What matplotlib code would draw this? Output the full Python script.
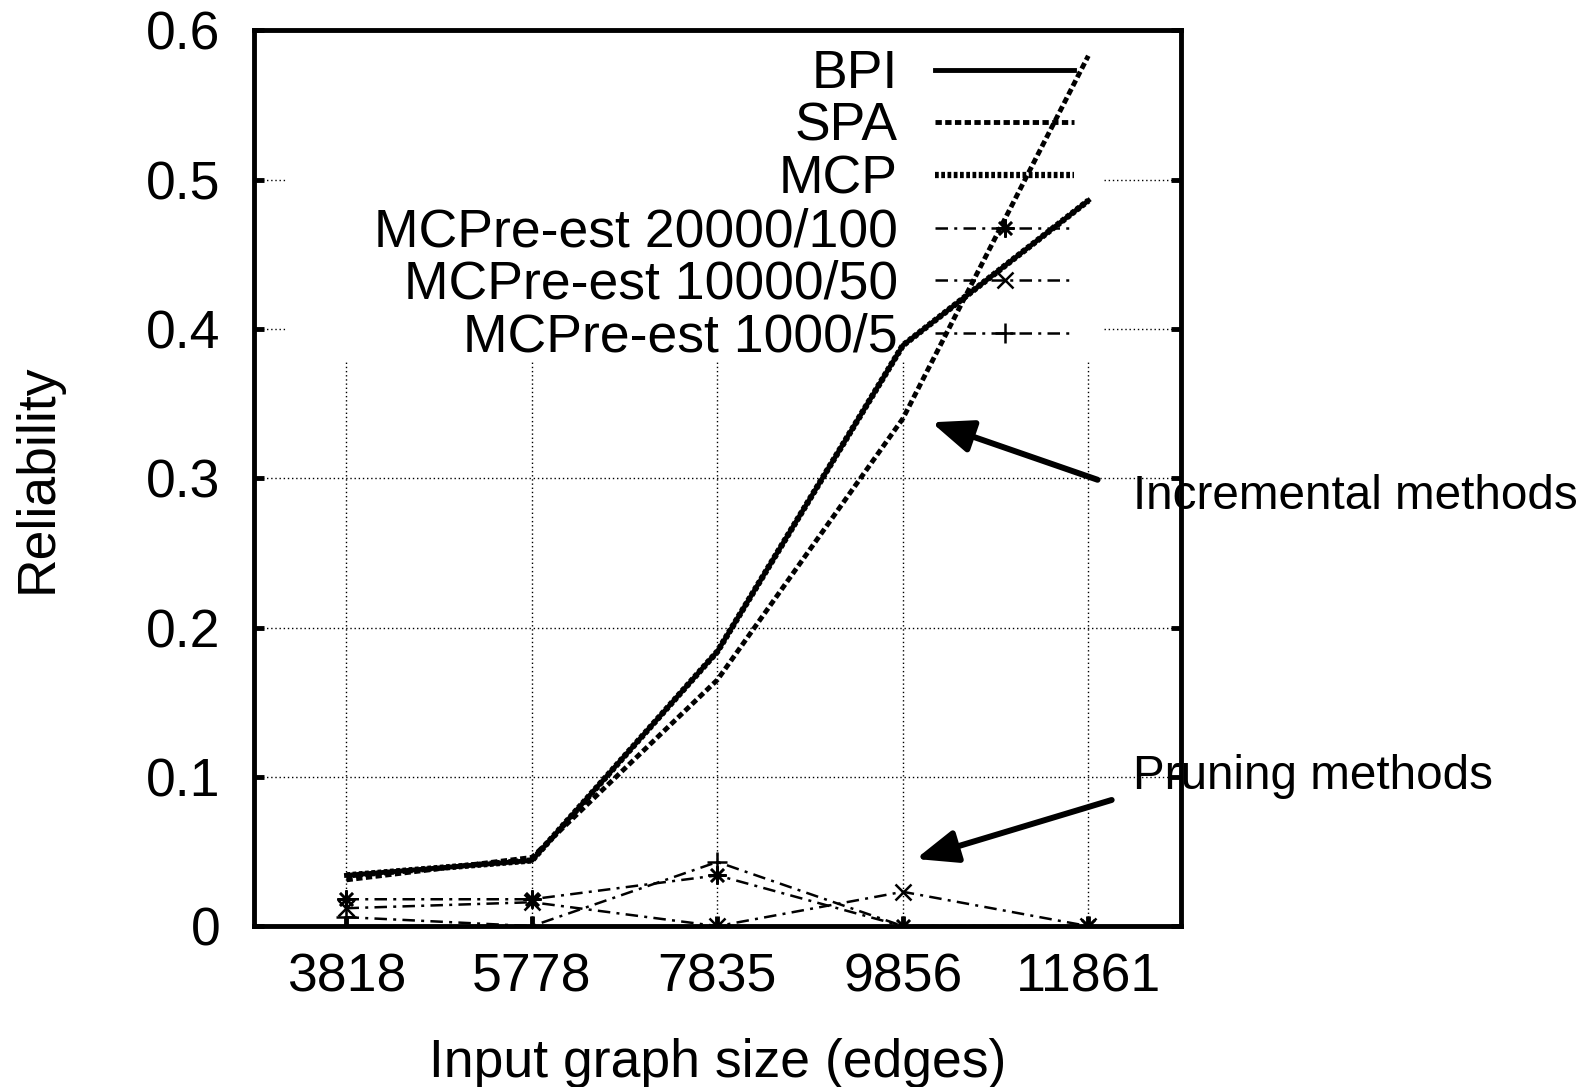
import matplotlib
matplotlib.use("Agg")
import matplotlib.pyplot as plt
from matplotlib.patches import Rectangle

plt.rcParams["font.family"] = ["Liberation Sans", "DejaVu Sans"]

# data
sizes = ["3818", "5778", "7835", "9856", "11861"]
bpi = [0.034, 0.044, 0.184, 0.389, 0.486]
spa = [0.031, 0.046, 0.165, 0.340, 0.583]
mcp = [0.034, 0.044, 0.184, 0.389, 0.486]
pre_20000 = [0.018, 0.018, 0.034, 0.0, 0.0]
pre_10000 = [0.012, 0.016, 0.0, 0.023, 0.0]
pre_1000 = [0.006, 0.0, 0.043, 0.0, 0.0]
yticks = [0, 0.1, 0.2, 0.3, 0.4, 0.5, 0.6]
ytick_labels = ["0", "0.1", "0.2", "0.3", "0.4", "0.5", "0.6"]

fs = 38.5
fig = plt.figure(figsize=(15.96, 10.87), dpi=100)
ax = fig.add_axes([0.159, 0.148, 0.581, 0.824])
x = list(range(len(sizes)))

dashdot = (0, (5, 2.5, 1.2, 2.5))
ax.plot(x, mcp, color="black", lw=4.5, ls=(0, (0.6, 0.4)), label="MCP", zorder=3)
ax.plot(x, spa, color="black", lw=3.5, ls=(0, (1.3, 0.7)), label="SPA", zorder=3)
ax.plot(x, bpi, color="black", lw=3.5, ls="-", label="BPI", zorder=4)
ax.plot(x, pre_20000, color="black", lw=1.8, ls=dashdot, marker=(8, 2, 0),
        ms=13, mew=1.8, label="MCPre-est 20000/100", zorder=3)
ax.plot(x, pre_10000, color="black", lw=1.8, ls=dashdot, marker="x",
        ms=11, mew=1.8, label="MCPre-est 10000/50", zorder=3)
ax.plot(x, pre_1000, color="black", lw=1.8, ls=dashdot, marker="+",
        ms=14, mew=1.8, label="MCPre-est 1000/5", zorder=3)

ax.set_xlim(-0.5, 4.5)
ax.set_ylim(0, 0.6)
ax.set_xticks(x)
ax.set_xticklabels(sizes)
ax.set_yticks(yticks)
ax.set_yticklabels(ytick_labels)

ax.grid(True, color="black", ls=(0, (1, 2)), lw=1.0)
ax.set_axisbelow(True)
# opaque key area hides the grid
ax.add_patch(Rectangle((-0.324, 0.378), 4.41, 0.23, facecolor="white",
                       edgecolor="none", zorder=1))

for s in ax.spines.values():
    s.set_linewidth(3.5)
ax.tick_params(axis="both", direction="in", length=7, width=3.5,
               top=True, right=True, labelsize=fs)
ax.tick_params(axis="y", pad=24)
ax.tick_params(axis="x", pad=19)

ax.set_xlabel("Input graph size (edges)", fontsize=fs)
ax.set_ylabel("Reliability", fontsize=fs)
ax.xaxis.set_label_coords(0.5, -0.125)
ax.yaxis.set_label_coords(-0.206, 0.5)

h, l = ax.get_legend_handles_labels()
order = [2, 1, 0, 3, 4, 5]
leg = ax.legend([h[i] for i in order], [l[i] for i in order],
                loc="upper right", bbox_to_anchor=(0.885, 0.979),
                frameon=False, fontsize=fs, markerfirst=False,
                handlelength=2.6, handletextpad=0.7, labelspacing=0.05,
                borderpad=0, borderaxespad=0, numpoints=1)

arrow = dict(arrowstyle="-|>,head_length=1.0,head_width=0.4", mutation_scale=25,
             color="black", lw=4.3, shrinkA=0, shrinkB=0)
ax.annotate("", xy=(3.154, 0.3375), xytext=(4.05, 0.299),
            annotation_clip=False, arrowprops=arrow)
ax.annotate("", xy=(3.07, 0.045), xytext=(4.126, 0.0845),
            annotation_clip=False, arrowprops=arrow)
ax.text(4.24, 0.288, "Incremental methods", fontsize=34.3, va="center",
        ha="left", clip_on=False)
ax.text(4.24, 0.1, "Pruning methods", fontsize=34.3, va="center",
        ha="left", clip_on=False)

fig.savefig("out.png", dpi=100)
